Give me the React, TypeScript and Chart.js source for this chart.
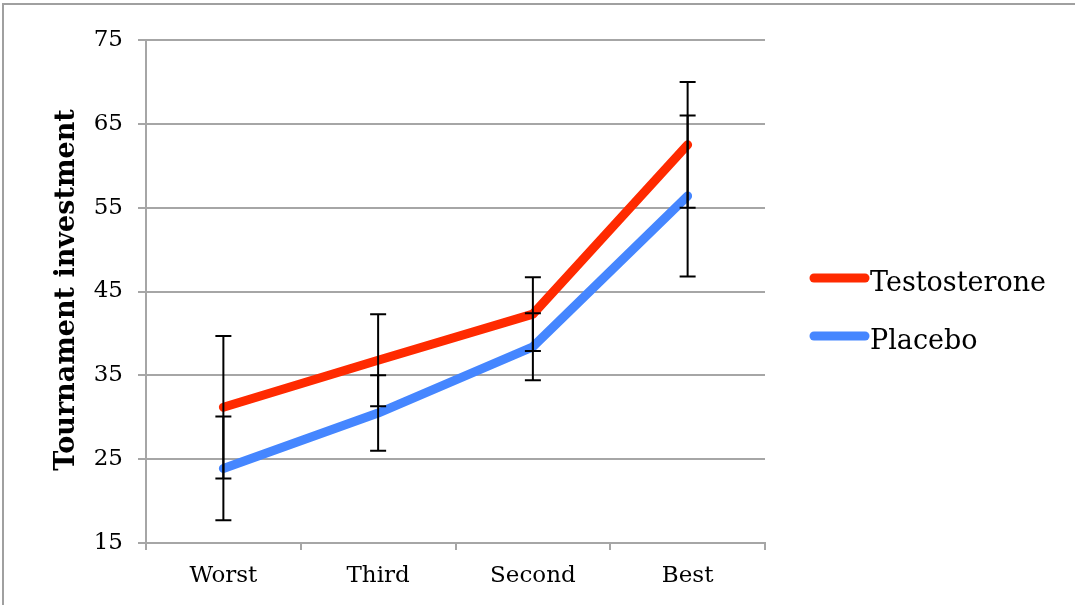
import { useEffect, useRef } from "react";
import { Chart, registerables } from "chart.js";

Chart.register(...registerables);

// Tournament investment by rank, with standard-error bars
const categories = ["Worst", "Third", "Second", "Best"];
const testosterone = [31.2, 36.8, 42.3, 62.5];
const testosteroneErr = [8.5, 5.5, 4.4, 7.5];
const placebo = [23.9, 30.5, 38.4, 56.4];
const placeboErr = [6.2, 4.5, 4.0, 9.6];
const yMin = 15;
const yMax = 75;
const yStep = 10;

const seriesNames = ["Testosterone", "Placebo"];
const seriesColors = ["#FF2A00", "#4586FF"];
const errors = [testosteroneErr, placeboErr];

const FONT = "'DejaVu Serif', 'Liberation Serif', serif";
const GRID = "#A6A6A6";

const errorBarPlugin = {
  id: "errorBars",
  afterDatasetsDraw(chart: any) {
    const { ctx } = chart;
    const yScale = chart.scales.y;
    ctx.save();
    ctx.strokeStyle = "#000";
    ctx.lineWidth = 2;
    chart.data.datasets.forEach((ds: any, di: number) => {
      const meta = chart.getDatasetMeta(di);
      ds.data.forEach((v: number, i: number) => {
        const e = errors[di][i];
        const x = meta.data[i].x;
        const yt = yScale.getPixelForValue(v + e);
        const yb = yScale.getPixelForValue(v - e);
        ctx.beginPath();
        ctx.moveTo(x, yt);
        ctx.lineTo(x, yb);
        ctx.moveTo(x - 8, yt);
        ctx.lineTo(x + 8, yt);
        ctx.moveTo(x - 8, yb);
        ctx.lineTo(x + 8, yb);
        ctx.stroke();
      });
    });
    ctx.restore();
  },
};

const legendPlugin = {
  id: "sideLegend",
  afterDraw(chart: any) {
    const { ctx } = chart;
    const rows = [278, 336];
    ctx.save();
    chart.data.datasets.forEach((ds: any, i: number) => {
      const y = rows[i];
      ctx.strokeStyle = ds.borderColor;
      ctx.lineWidth = 9;
      ctx.lineCap = "round";
      ctx.beginPath();
      ctx.moveTo(814, y);
      ctx.lineTo(865, y);
      ctx.stroke();
      ctx.fillStyle = "#000";
      ctx.font = `27px ${FONT}`;
      ctx.textAlign = "left";
      ctx.textBaseline = "alphabetic";
      ctx.fillText(ds.label, 870, y + 13);
    });
    ctx.restore();
  },
};

const axisTitlePlugin = {
  id: "yAxisTitle",
  afterDraw(chart: any) {
    const { ctx } = chart;
    ctx.save();
    ctx.translate(67, 290);
    ctx.rotate(-Math.PI / 2);
    ctx.fillStyle = "#000";
    ctx.font = `bold 27px ${FONT}`;
    ctx.textAlign = "center";
    ctx.textBaseline = "middle";
    ctx.fillText("Tournament investment", 0, 0);
    ctx.restore();
  },
};

const framePlugin = {
  id: "frame",
  afterDraw(chart: any) {
    const { ctx } = chart;
    ctx.save();
    ctx.strokeStyle = "#A0A0A0";
    ctx.lineWidth = 2;
    ctx.beginPath();
    ctx.moveTo(3, 605);
    ctx.lineTo(3, 4);
    ctx.lineTo(1075, 4);
    ctx.stroke();
    ctx.restore();
  },
};

export default function App() {
  const canvasRef = useRef<HTMLCanvasElement | null>(null);

  useEffect(() => {
    document.body.style.margin = "0";
    const canvas = canvasRef.current;
    if (!canvas) return;
    const chart = new Chart(canvas, {
      type: "line",
      data: {
        labels: categories,
        datasets: [
          {
            label: seriesNames[0],
            data: testosterone,
            borderColor: seriesColors[0],
            backgroundColor: seriesColors[0],
            borderWidth: 9,
            borderCapStyle: "round",
            borderJoinStyle: "round",
            pointRadius: 0,
            tension: 0,
          },
          {
            label: seriesNames[1],
            data: placebo,
            borderColor: seriesColors[1],
            backgroundColor: seriesColors[1],
            borderWidth: 9,
            borderCapStyle: "round",
            borderJoinStyle: "round",
            pointRadius: 0,
            tension: 0,
          },
        ],
      },
      options: {
        animation: false,
        responsive: false,
        maintainAspectRatio: false,
        layout: { padding: { top: 40, right: 310, left: 0, bottom: 0 } },
        plugins: {
          legend: { display: false },
          tooltip: { enabled: false },
        },
        scales: {
          x: {
            offset: true,
            grid: {
              offset: true,
              drawOnChartArea: false,
              drawTicks: true,
              tickLength: 7,
              color: GRID,
              lineWidth: 2,
            },
            border: { color: GRID, width: 2 },
            ticks: {
              color: "#000",
              font: { family: FONT, size: 23 },
              padding: 12,
              maxRotation: 0,
            },
            afterFit: (scale: any) => {
              scale.height = 62;
            },
          },
          y: {
            min: yMin,
            max: yMax,
            grid: {
              color: GRID,
              lineWidth: 2,
              drawTicks: true,
              tickLength: 8,
            },
            border: { color: GRID, width: 2 },
            ticks: {
              stepSize: yStep,
              color: "#000",
              font: { family: FONT, size: 23 },
              padding: 15,
            },
            afterFit: (scale: any) => {
              scale.width = 146;
            },
          },
        },
      },
      plugins: [errorBarPlugin, legendPlugin, axisTitlePlugin, framePlugin],
    } as any);
    return () => chart.destroy();
  }, []);

  return (
    <div style={{ width: 1075, height: 605, background: "#fff" }}>
      <canvas ref={canvasRef} width={1075} height={605} style={{ display: "block" }} />
    </div>
  );
}
